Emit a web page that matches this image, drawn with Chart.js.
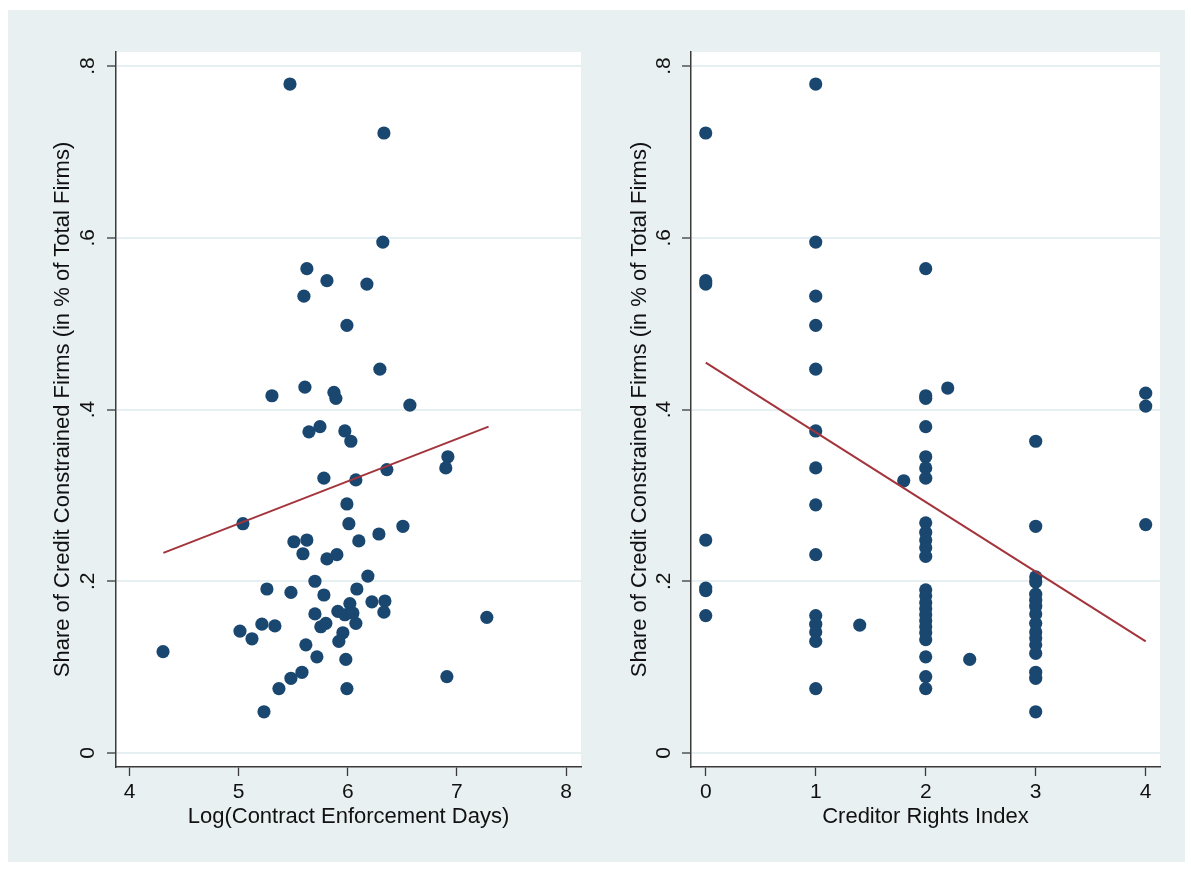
<!DOCTYPE html>
<html>
<head>
<meta charset="utf-8">
<script src="https://cdn.jsdelivr.net/npm/chart.js@4"></script>
<style>
  html, body { margin: 0; padding: 0; background: #ffffff; }
  #wrap { position: relative; width: 1191px; height: 869px; overflow: hidden; }
  #bg { position: absolute; left: 8px; top: 10px; width: 1177px; height: 852px; background: #e8f0f2; }
  canvas { position: absolute; top: 0; }
  #c1 { left: 0; }
  #c2 { left: 595px; }
</style>
</head>
<body>
<div id="wrap">
  <div id="bg"></div>
  <canvas id="c1" width="595" height="869"></canvas>
  <canvas id="c2" width="596" height="869"></canvas>
</div>
<script>
// ---------- data ----------
const yTitle = 'Share of Credit Constrained Firms (in % of Total Firms)';
const yTickValues = [0, 0.2, 0.4, 0.6, 0.8];
const yTickLabels = ['0', '.2', '.4', '.6', '.8'];

// Left panel: Log(Contract Enforcement Days)
const leftTitle = 'Log(Contract Enforcement Days)';
const leftTickValues = [4, 5, 6, 7, 8];
const leftX = [5.470, 6.331, 6.321, 5.625, 5.809, 6.175, 5.598, 5.992, 6.294, 5.607,
  5.305, 5.873, 5.891, 6.569, 5.644, 5.745, 5.973, 6.028, 5.781, 6.074,
  6.358, 6.917, 6.898, 5.039, 5.992, 6.010, 6.505, 6.285, 6.101, 5.506,
  5.625, 5.589, 5.809, 5.900, 6.184, 5.699, 6.083, 5.259, 5.479, 5.781,
  6.221, 6.340, 6.331, 6.019, 5.909, 5.973, 6.047, 5.699, 6.074, 5.753,
  5.799, 5.012, 5.213, 5.332, 5.122, 5.955, 5.918, 4.307, 5.616, 5.717,
  5.982, 5.580, 5.479, 5.369, 5.232, 7.274, 6.908, 5.992];
const leftY = [0.779, 0.722, 0.595, 0.564, 0.550, 0.546, 0.532, 0.498, 0.447, 0.426,
  0.416, 0.420, 0.413, 0.405, 0.374, 0.380, 0.375, 0.363, 0.320, 0.318,
  0.330, 0.345, 0.332, 0.267, 0.290, 0.267, 0.264, 0.255, 0.247, 0.246,
  0.248, 0.232, 0.226, 0.231, 0.206, 0.200, 0.191, 0.191, 0.187, 0.184,
  0.176, 0.177, 0.164, 0.174, 0.165, 0.161, 0.163, 0.162, 0.151, 0.147,
  0.151, 0.142, 0.150, 0.148, 0.133, 0.140, 0.130, 0.118, 0.126, 0.112,
  0.109, 0.094, 0.087, 0.075, 0.048, 0.158, 0.089, 0.075];
const leftFitX = [4.31, 7.29];
const leftFitY = [0.233, 0.380];

// Right panel: Creditor Rights Index
const rightTitle = 'Creditor Rights Index';
const rightTickValues = [0, 1, 2, 3, 4];
const rightX = [0, 0, 0, 0, 0, 0, 0,
  1, 1, 1, 1, 1, 1, 1, 1, 1, 1, 1, 1, 1, 1,
  1.4, 1.8, 2.2, 2.4,
  2, 2, 2, 2, 2, 2, 2, 2, 2, 2, 2, 2, 2, 2, 2, 2, 2, 2, 2, 2, 2, 2, 2, 2,
  3, 3, 3, 3, 3, 3, 3, 3, 3, 3, 3, 3, 3, 3, 3, 3,
  4, 4, 4];
const rightY = [0.722, 0.550, 0.546, 0.248, 0.192, 0.189, 0.160,
  0.779, 0.595, 0.532, 0.498, 0.447, 0.375, 0.332, 0.289, 0.231, 0.160, 0.150, 0.141, 0.130, 0.075,
  0.149, 0.317, 0.425, 0.109,
  0.564, 0.416, 0.413, 0.380, 0.345, 0.332, 0.320, 0.268, 0.257, 0.248, 0.239, 0.229,
  0.190, 0.183, 0.175, 0.168, 0.161, 0.154, 0.147, 0.140, 0.132, 0.112, 0.089, 0.075,
  0.363, 0.264, 0.205, 0.199, 0.185, 0.178, 0.171, 0.162, 0.151, 0.141, 0.134, 0.126, 0.116, 0.094, 0.087, 0.048,
  0.419, 0.404, 0.266];
const rightFitX = [0, 4];
const rightFitY = [0.4545, 0.130];

// ---------- styling ----------
const FONT = "'Liberation Sans', Arial, Helvetica, sans-serif";
const MARKER = '#1a476f';
const FIT = '#a3343c';
const GRID = '#e6eff1';
const AXIS = '#3a3a3a';

const panelBg = {
  id: 'panelBg',
  beforeDraw(chart) {
    const a = chart.chartArea, ctx = chart.ctx;
    ctx.save();
    ctx.fillStyle = '#ffffff';
    ctx.fillRect(a.left, a.top, a.right - a.left, a.bottom - a.top);
    ctx.restore();
  }
};

const rotatedYLabels = {
  id: 'rotatedYLabels',
  afterDraw(chart, args, opts) {
    const s = chart.scales.y, ctx = chart.ctx;
    ctx.save();
    ctx.fillStyle = '#111';
    ctx.font = '21px ' + FONT;
    ctx.textAlign = 'center';
    ctx.textBaseline = 'middle';
    yTickValues.forEach((v, i) => {
      const py = s.getPixelForValue(v);
      ctx.save();
      ctx.translate(opts.x, py);
      ctx.rotate(-Math.PI / 2);
      ctx.fillText(yTickLabels[i], 0, 0);
      ctx.restore();
    });
    ctx.restore();
  }
};

function makePanel(canvasId, cfg) {
  const pts = cfg.xs.map((x, i) => ({x: x, y: cfg.ys[i]}));
  const fit = cfg.fitX.map((x, i) => ({x: x, y: cfg.fitY[i]}));
  return new Chart(document.getElementById(canvasId), {
    type: 'scatter',
    data: {
      datasets: [
        {
          type: 'line', data: fit, borderColor: FIT, borderWidth: 2,
          pointRadius: 0, fill: false, order: 0, showLine: true
        },
        {
          type: 'scatter', data: pts, backgroundColor: MARKER, borderWidth: 0,
          pointRadius: 6.6, pointHoverRadius: 6.6, order: 1
        }
      ]
    },
    options: {
      responsive: false,
      animation: false,
      devicePixelRatio: 1,
      events: [],
      layout: { padding: { top: 52, right: cfg.padRight, left: 0, bottom: 0 } },
      plugins: {
        legend: { display: false },
        tooltip: { enabled: false },
        rotatedYLabels: { x: cfg.yLabelX }
      },
      scales: {
        x: {
          type: 'linear', position: 'bottom', min: cfg.xMin, max: cfg.xMax,
          afterBuildTicks: s => { s.ticks = cfg.xTicks.map(v => ({value: v})); },
          afterFit: s => { s.height = 102; },
          ticks: { font: { family: FONT, size: 21 }, color: '#111', padding: 4,
                   callback: v => String(v), maxRotation: 0, autoSkip: false },
          grid: { drawOnChartArea: false, drawTicks: true, tickLength: 9,
                  tickColor: AXIS, tickWidth: 1.3 },
          border: { display: true, color: AXIS, width: 1.5 },
          title: { display: true, text: cfg.xTitle, color: '#111',
                   font: { family: FONT, size: 22 }, padding: { top: 0, bottom: 38.8 } }
        },
        y: {
          type: 'linear', position: 'left', min: -0.0163, max: 0.8163,
          afterBuildTicks: s => { s.ticks = yTickValues.map(v => ({value: v})); },
          afterFit: s => { s.width = cfg.yWidth; },
          ticks: { display: false },
          grid: { drawOnChartArea: true, color: GRID, lineWidth: 2, drawTicks: true,
                  tickLength: 9, tickColor: AXIS, tickWidth: 1.3 },
          border: { display: true, color: AXIS, width: 1.5 },
          title: { display: true, text: yTitle, color: '#111',
                   font: { family: FONT, size: 22 }, padding: { top: cfg.yTitlePad, bottom: 0 } }
        }
      }
    },
    plugins: [panelBg, rotatedYLabels]
  });
}

makePanel('c1', {
  xs: leftX, ys: leftY, fitX: leftFitX, fitY: leftFitY,
  xMin: 3.876, xMax: 8.137, xTicks: leftTickValues, xTitle: leftTitle,
  padRight: 14, yWidth: 116, yTitlePad: 49.8, yLabelX: 88
});
makePanel('c2', {
  xs: rightX, ys: rightY, fitX: rightFitX, fitY: rightFitY,
  xMin: -0.134, xMax: 4.13, xTicks: rightTickValues, xTitle: rightTitle,
  padRight: 31, yWidth: 96, yTitlePad: 31.8, yLabelX: 69
});
</script>
</body>
</html>
